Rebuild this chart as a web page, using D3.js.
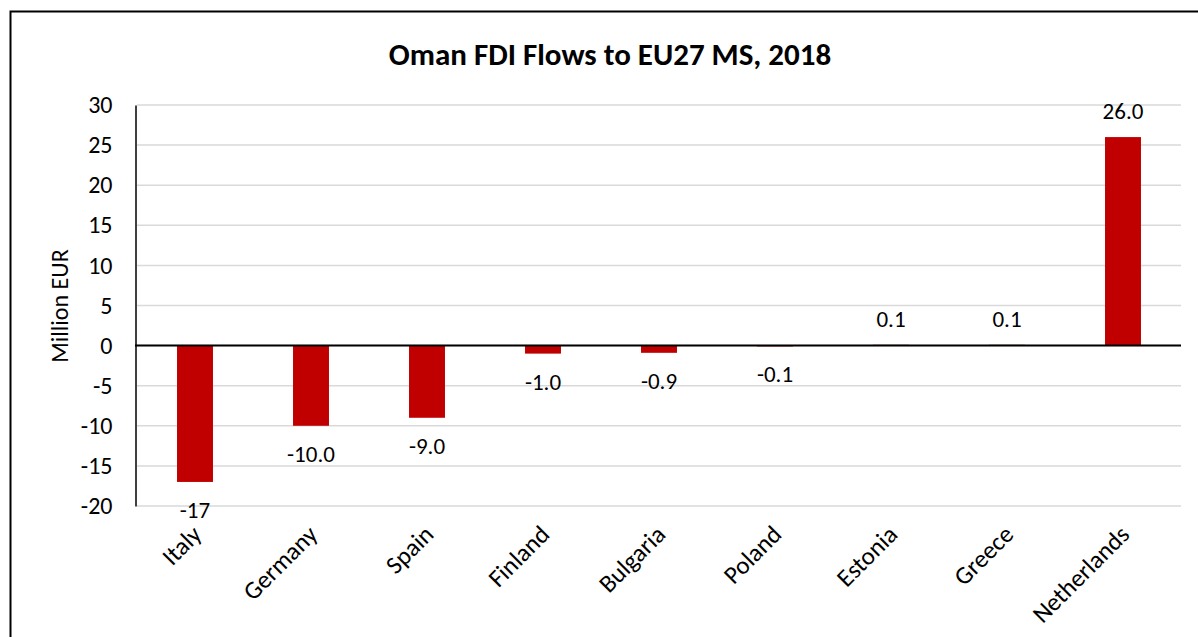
<!DOCTYPE html>
<html>
<head>
<meta charset="utf-8">
<script src="https://cdn.jsdelivr.net/npm/d3@7"></script>
<style>
  body { margin: 0; background: #fff; }
  svg { display: block; font-family: Calibri, Carlito, Lato, sans-serif; }
</style>
</head>
<body>
<div id="chart"></div>
<script>
// values
var countries = ["Italy", "Germany", "Spain", "Finland", "Bulgaria", "Poland", "Estonia", "Greece", "Netherlands"]
var flows = [-17, -10, -9, -1, -0.9, -0.1, 0.1, 0.1, 26]
var flowLabels = ["-17", "-10.0", "-9.0", "-1.0", "-0.9", "-0.1", "0.1", "0.1", "26.0"]
var yTicks = [-20, -15, -10, -5, 0, 5, 10, 15, 20, 25, 30]

var width = 1198, height = 637
var plot = { left: 137, right: 1181, top: 105, bottom: 506 }

var svg = d3.select("#chart").append("svg")
    .attr("width", width)
    .attr("height", height)

// outer frame (runs off the right and bottom of the picture)
svg.append("rect")
    .attr("x", 10.5).attr("y", 11.5)
    .attr("width", 1200).attr("height", 700)
    .attr("fill", "none").attr("stroke", "#000").attr("stroke-width", 2)

svg.append("text")
    .attr("x", 610).attr("y", 65)
    .attr("text-anchor", "middle")
    .attr("font-size", "31px").attr("font-weight", "bold")
    .text("Oman FDI Flows to EU27 MS, 2018")

var x = d3.scaleBand()
    .domain(countries)
    .range([plot.left, plot.right])
    .paddingInner(0.69)
    .paddingOuter(0.345)

var y = d3.scaleLinear()
    .domain([-20, 30])
    .range([plot.bottom, plot.top])

// gridlines
svg.append("g")
    .selectAll("line")
    .data(yTicks)
    .enter().append("line")
    .attr("x1", plot.left).attr("x2", plot.right)
    .attr("y1", d => y(d)).attr("y2", d => y(d))
    .attr("stroke", "#d9d9d9").attr("stroke-width", 1.5)

// y axis (plain hyphen for negatives, like the original)
var leftAxis = d3.axisLeft(y).tickValues(yTicks).tickSize(0).tickPadding(23)
    .tickFormat(d => String(d))
var yAxisG = svg.append("g")
    .attr("transform", `translate(${plot.left - 1.5}, 0)`)
    .call(leftAxis)
yAxisG.select(".domain").attr("stroke", "#000").attr("stroke-width", 1.5)
yAxisG.selectAll("text")
    .attr("font-family", "Calibri, Carlito, Lato, sans-serif")
    .attr("font-size", "24px").attr("fill", "#000")

svg.append("text")
    .attr("transform", "translate(68, 306) rotate(-90)")
    .attr("text-anchor", "middle")
    .attr("font-size", "24px")
    .text("Million EUR")

var data = countries.map((c, i) => ({ name: c, value: flows[i], label: flowLabels[i] }))

// bars
svg.append("g")
    .selectAll("rect")
    .data(data)
    .enter().append("rect")
    .attr("x", d => x(d.name))
    .attr("width", x.bandwidth())
    .attr("y", d => y(Math.max(0, d.value)))
    .attr("height", d => Math.abs(y(d.value) - y(0)))
    .attr("fill", "#c00000")

// zero line
svg.append("line")
    .attr("x1", plot.left - 2).attr("x2", plot.right)
    .attr("y1", y(0)).attr("y2", y(0))
    .attr("stroke", "#000").attr("stroke-width", 2)

// data labels
svg.append("g")
    .selectAll("text")
    .data(data)
    .enter().append("text")
    .attr("x", d => x(d.name) + x.bandwidth() / 2)
    .attr("y", d => d.value < 0 ? y(d.value) + 36 : y(d.value) - 18)
    .attr("text-anchor", "middle")
    .attr("font-size", "23px")
    .text(d => d.label)

// category labels, rotated
var bottomAxis = d3.axisBottom(x).tickSize(0)
var xAxisG = svg.append("g")
    .attr("transform", `translate(0, ${plot.bottom})`)
    .call(bottomAxis)
xAxisG.select(".domain").remove()
xAxisG.selectAll("text")
    .attr("font-family", "Calibri, Carlito, Lato, sans-serif")
    .attr("font-size", "25px").attr("fill", "#000")
    .attr("text-anchor", "end")
    .attr("dy", 0).attr("y", 0)
    .attr("transform", "translate(8, 30) rotate(-45)")
</script>
</body>
</html>
